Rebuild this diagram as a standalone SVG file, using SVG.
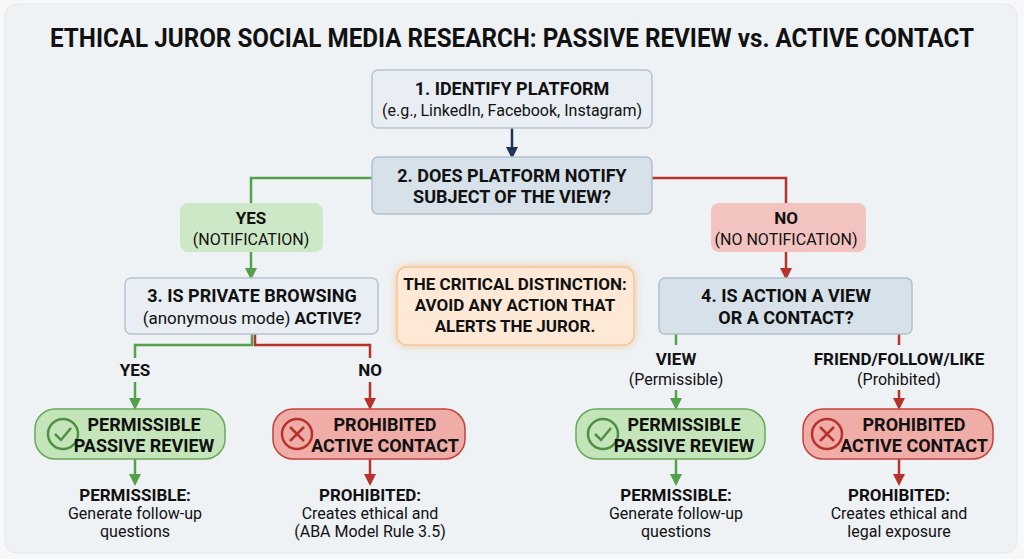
<svg xmlns="http://www.w3.org/2000/svg" width="1024" height="559" viewBox="0 0 1024 559">
<defs>
<style>
text{font-family:Roboto,"Liberation Sans",sans-serif;text-anchor:middle;fill:#111}
.b{font-weight:700}
.g{stroke:#55a04a;stroke-width:2.5;fill:none}
.r{stroke:#b8322c;stroke-width:2.5;fill:none}
.q{fill:#e8eef3;stroke:#b7c3cf;stroke-width:1.5}
</style>
<marker id="ag" markerWidth="12" markerHeight="12" refX="9" refY="6" orient="auto" markerUnits="userSpaceOnUse" viewBox="0 0 12 12"><path d="M0,0 L12,6 L0,12 z" fill="#55a04a"/></marker>
<marker id="ar" markerWidth="12" markerHeight="12" refX="9" refY="6" orient="auto" markerUnits="userSpaceOnUse" viewBox="0 0 12 12"><path d="M0,0 L12,6 L0,12 z" fill="#b8322c"/></marker>
<marker id="an" markerWidth="12" markerHeight="12" refX="9" refY="6" orient="auto" markerUnits="userSpaceOnUse" viewBox="0 0 12 12"><path d="M0,0 L12,6 L0,12 z" fill="#1d3557"/></marker>
<filter id="glow" x="-20%" y="-30%" width="140%" height="160%"><feGaussianBlur stdDeviation="5"/></filter>
</defs>
<rect width="1024" height="559" fill="#f7f8f9"/>
<rect x="5" y="4" width="1012" height="549" rx="12" fill="#eef2f5" stroke="#e2e7ec"/>
<text x="512" y="47" class="b" style="font-size:25px" textLength="924" lengthAdjust="spacingAndGlyphs">ETHICAL JUROR SOCIAL MEDIA RESEARCH: PASSIVE REVIEW vs. ACTIVE CONTACT</text>

<g id="connectors">
<path d="M512,128 V156" stroke="#1d3557" stroke-width="2.5" fill="none" marker-end="url(#an)"/>
<path class="g" d="M372,178 H251 V203"/>
<path class="g" d="M251,252 V277" marker-end="url(#ag)"/>
<path class="r" d="M652,178 H786 V203"/>
<path class="r" d="M786,252 V277" marker-end="url(#ar)"/>
<path class="g" d="M252,334 V345 H135 V358"/>
<path class="r" d="M255,334 V345 H370 V358"/>
<path class="g" d="M135,382 V407" marker-end="url(#ag)"/>
<path class="r" d="M370,382 V407" marker-end="url(#ar)"/>
<path class="g" d="M135,459 V483" marker-end="url(#ag)"/>
<path class="r" d="M370,459 V483" marker-end="url(#ar)"/>
<path class="g" d="M676,334 V345"/>
<path class="r" d="M899,334 V345"/>
<path class="g" d="M676,390 V407" marker-end="url(#ag)"/>
<path class="r" d="M899,390 V407" marker-end="url(#ar)"/>
<path class="g" d="M676,459 V483" marker-end="url(#ag)"/>
<path class="r" d="M899,459 V483" marker-end="url(#ar)"/>
</g>

<g id="n1"><rect class="q" x="372" y="70" width="280" height="58" rx="6"/>
<text x="512" y="95" class="b" style="font-size:18px">1. IDENTIFY PLATFORM</text>
<text x="512" y="116" style="font-size:16px">(e.g., LinkedIn, Facebook, Instagram)</text></g>

<g id="n2"><rect x="372" y="157" width="280" height="57" rx="6" fill="#d6e1e9" stroke="#b2c0cc" stroke-width="1.5"/>
<text x="512" y="182" class="b" style="font-size:18px">2. DOES PLATFORM NOTIFY</text>
<text x="512" y="203" class="b" style="font-size:18px">SUBJECT OF THE VIEW?</text></g>

<g id="yes1"><rect x="180" y="203" width="143" height="49" rx="8" fill="#cde8c6"/>
<text x="251" y="224" class="b" style="font-size:17px">YES</text>
<text x="251" y="245" style="font-size:16px">(NOTIFICATION)</text></g>

<g id="no1"><rect x="711" y="203" width="155" height="49" rx="8" fill="#f2c3bf"/>
<text x="786" y="224" class="b" style="font-size:17px">NO</text>
<text x="786" y="245" style="font-size:16px">(NO NOTIFICATION)</text></g>

<g id="n3"><rect class="q" x="125" y="278" width="253" height="56" rx="6"/>
<text x="252" y="302" class="b" style="font-size:18px">3. IS PRIVATE BROWSING</text>
<text x="252" y="324" style="font-size:17px">(anonymous mode) <tspan class="b">ACTIVE?</tspan></text></g>

<g id="n4"><rect x="659" y="278" width="253" height="56" rx="6" fill="#d6e1e9" stroke="#b2c0cc" stroke-width="1.5"/>
<text x="786" y="302" class="b" style="font-size:18px">4. IS ACTION A VIEW</text>
<text x="786" y="324" class="b" style="font-size:18px">OR A CONTACT?</text></g>

<g id="note"><rect x="397" y="267" width="237" height="78" rx="10" fill="#f7b070" opacity="0.8" filter="url(#glow)"/>
<rect x="397" y="267" width="237" height="78" rx="10" fill="#fde9d6" stroke="#f4c59a" stroke-width="1.5"/>
<text x="515" y="290" class="b" style="font-size:17px">THE CRITICAL DISTINCTION:</text>
<text x="515" y="311" class="b" style="font-size:17px">AVOID ANY ACTION THAT</text>
<text x="515" y="332" class="b" style="font-size:17px">ALERTS THE JUROR.</text></g>

<g id="l1"><text x="135" y="376" class="b" style="font-size:17px">YES</text></g>
<g id="l2"><text x="370" y="376" class="b" style="font-size:17px">NO</text></g>
<g id="l3"><text x="676" y="365" class="b" style="font-size:17px">VIEW</text><text x="676" y="385" style="font-size:16px">(Permissible)</text></g>
<g id="l4"><text x="899" y="365" class="b" style="font-size:17px">FRIEND/FOLLOW/LIKE</text><text x="899" y="385" style="font-size:16px">(Prohibited)</text></g>

<g id="p1"><rect x="35" y="409" width="190" height="50" rx="20" fill="#c4e4b9" stroke="#6aa85a" stroke-width="1.5"/>
<circle cx="63" cy="434" r="15" fill="none" stroke="#4f8f44" stroke-width="2.5"/>
<path d="M55,434 L61,440 L71,428" fill="none" stroke="#4f8f44" stroke-width="2.5"/>
<text x="144" y="431" class="b" style="font-size:18px">PERMISSIBLE</text>
<text x="144" y="452" class="b" style="font-size:18px">PASSIVE REVIEW</text></g>

<g id="x1"><rect x="273" y="409" width="192" height="50" rx="20" fill="#f0aca6" stroke="#c0433c" stroke-width="1.5"/>
<circle cx="297" cy="434" r="15" fill="none" stroke="#b8322c" stroke-width="2.5"/>
<path d="M290,427 L304,441 M304,427 L290,441" stroke="#b8322c" stroke-width="2.5"/>
<text x="385" y="431" class="b" style="font-size:18px">PROHIBITED</text>
<text x="385" y="452" class="b" style="font-size:18px">ACTIVE CONTACT</text></g>

<g id="p2"><rect x="576" y="409" width="189" height="50" rx="20" fill="#c4e4b9" stroke="#6aa85a" stroke-width="1.5"/>
<circle cx="603" cy="434" r="15" fill="none" stroke="#4f8f44" stroke-width="2.5"/>
<path d="M595,434 L601,440 L611,428" fill="none" stroke="#4f8f44" stroke-width="2.5"/>
<text x="684" y="431" class="b" style="font-size:18px">PERMISSIBLE</text>
<text x="684" y="452" class="b" style="font-size:18px">PASSIVE REVIEW</text></g>

<g id="x2"><rect x="803" y="409" width="190" height="50" rx="20" fill="#f0aca6" stroke="#c0433c" stroke-width="1.5"/>
<circle cx="827" cy="434" r="15" fill="none" stroke="#b8322c" stroke-width="2.5"/>
<path d="M820,427 L834,441 M834,427 L820,441" stroke="#b8322c" stroke-width="2.5"/>
<text x="914" y="431" class="b" style="font-size:18px">PROHIBITED</text>
<text x="914" y="452" class="b" style="font-size:18px">ACTIVE CONTACT</text></g>

<g id="o1"><text x="135" y="501" class="b" style="font-size:17px">PERMISSIBLE:</text>
<text x="135" y="519" style="font-size:16px">Generate follow-up</text><text x="135" y="537" style="font-size:16px">questions</text></g>
<g id="o2"><text x="370" y="501" class="b" style="font-size:17px">PROHIBITED:</text>
<text x="370" y="519" style="font-size:16px">Creates ethical and</text><text x="370" y="537" style="font-size:16px">(ABA Model Rule 3.5)</text></g>
<g id="o3"><text x="676" y="501" class="b" style="font-size:17px">PERMISSIBLE:</text>
<text x="676" y="519" style="font-size:16px">Generate follow-up</text><text x="676" y="537" style="font-size:16px">questions</text></g>
<g id="o4"><text x="899" y="501" class="b" style="font-size:17px">PROHIBITED:</text>
<text x="899" y="519" style="font-size:16px">Creates ethical and</text><text x="899" y="537" style="font-size:16px">legal exposure</text></g>
</svg>
